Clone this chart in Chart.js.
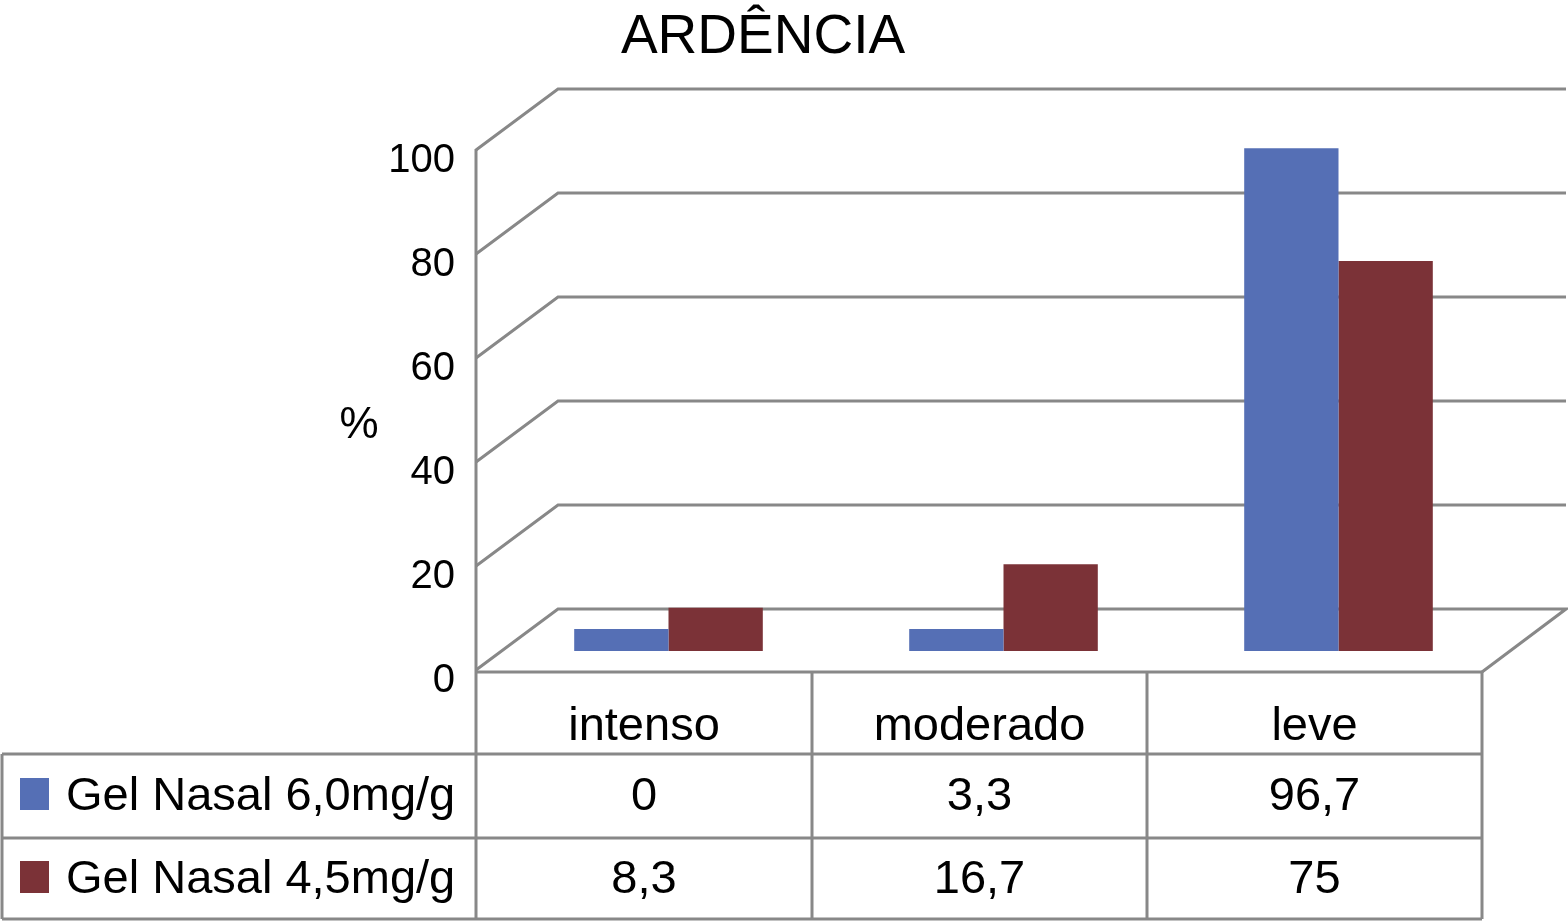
<!DOCTYPE html>
<html>
<head>
<meta charset="utf-8">
<script src="https://cdn.jsdelivr.net/npm/chart.js@4/dist/chart.umd.min.js"></script>
<style>
  html, body { margin: 0; padding: 0; background: #ffffff; }
  #wrap { width: 1568px; height: 922px; }
</style>
</head>
<body>
<div id="wrap"><canvas id="c" width="1568" height="922"></canvas></div>
<script>
// ---- data ----
const categories = ['intenso', 'moderado', 'leve'];
const seriesNames = ['Gel Nasal 6,0mg/g', 'Gel Nasal 4,5mg/g'];
const gel60 = [0, 3.3, 96.7];
const gel45 = [8.3, 16.7, 75];
const yTicks = [0, 20, 40, 60, 80, 100];
const titleText = 'ARDÊNCIA';
const yAxisLabel = '%';

const seriesColors = ['#556FB5', '#7B3237'];
const gridColor = '#888888';
const FONT = '"Liberation Sans", Arial, Helvetica, sans-serif';

function fmt(v) { return String(v).replace('.', ','); }

const decorPlugin = {
  id: 'decor3d',
  beforeDatasetsDraw(chart) {
    const ctx = chart.ctx;
    const ys = chart.scales.y;
    const area = chart.chartArea;
    const frontX = area.left - 25;
    const backX = area.left + 57;
    const rightX = 1566;
    const tableRight = area.right - 24;
    ctx.save();
    ctx.strokeStyle = gridColor;
    ctx.lineWidth = 3;
    ctx.lineJoin = 'miter';
    yTicks.forEach(v => {
      const fy = ys.getPixelForValue(v) + 19;
      const by = fy - 61;
      ctx.beginPath();
      ctx.moveTo(frontX, fy);
      ctx.lineTo(backX, by);
      ctx.lineTo(rightX, by);
      if (v === 0) {
        ctx.lineTo(tableRight, fy + 2);
      }
      ctx.stroke();
    });
    // front vertical axis
    ctx.beginPath();
    ctx.moveTo(frontX, ys.getPixelForValue(100) + 18);
    ctx.lineTo(frontX, ys.getPixelForValue(0) + 21);
    ctx.stroke();
    ctx.restore();
  },
  afterDraw(chart) {
    const ctx = chart.ctx;
    const ys = chart.scales.y;
    const xs = chart.scales.x;
    const area = chart.chartArea;
    const frontX = area.left - 25;
    const shift = 24;
    const tableTop = ys.getPixelForValue(0) + 21;
    const rowY = [tableTop, 754, 838, 919];
    const colX = [frontX];
    for (let i = 0; i < categories.length; i++) {
      const half = (xs.getPixelForValue(1) - xs.getPixelForValue(0)) / 2;
      colX.push(xs.getPixelForValue(i) + half - shift);
    }
    const tableRight = colX[colX.length - 1];
    ctx.save();
    ctx.strokeStyle = gridColor;
    ctx.lineWidth = 3;
    // table lines
    ctx.beginPath();
    ctx.moveTo(frontX, rowY[0]); ctx.lineTo(tableRight, rowY[0]);
    for (let r = 1; r < rowY.length; r++) {
      ctx.moveTo(2, rowY[r]); ctx.lineTo(tableRight, rowY[r]);
    }
    ctx.moveTo(2, rowY[1]); ctx.lineTo(2, rowY[3]);
    colX.forEach(x => { ctx.moveTo(x, rowY[0]); ctx.lineTo(x, rowY[3]); });
    ctx.stroke();

    // text
    ctx.fillStyle = '#000';
    ctx.textAlign = 'center';
    ctx.textBaseline = 'alphabetic';
    ctx.font = '47px ' + FONT;
    categories.forEach((c, i) => {
      ctx.fillText(c, (colX[i] + colX[i + 1]) / 2, 740);
    });
    const rows = [gel60, gel45];
    const baselines = [810, 893];
    rows.forEach((vals, r) => {
      ctx.textAlign = 'center';
      vals.forEach((v, i) => {
        ctx.fillText(fmt(v), (colX[i] + colX[i + 1]) / 2, baselines[r]);
      });
      ctx.fillStyle = chart.data.datasets[r].backgroundColor;
      ctx.fillRect(20, baselines[r] - 32, 29, 32);
      ctx.fillStyle = '#000';
      ctx.textAlign = 'left';
      ctx.fillText(seriesNames[r], 66, baselines[r]);
    });

    // y tick labels
    ctx.font = '40px ' + FONT;
    ctx.textAlign = 'right';
    yTicks.forEach(v => {
      ctx.fillText(String(v), 455, ys.getPixelForValue(v) + 19 + 22);
    });
    // axis label
    ctx.font = '44px ' + FONT;
    ctx.textAlign = 'center';
    ctx.fillText(yAxisLabel, 359, 438);
    // title
    ctx.font = '55px ' + FONT;
    ctx.fillText(titleText, 763, 53);
    ctx.restore();
  }
};

new Chart(document.getElementById('c'), {
  type: 'bar',
  data: {
    labels: categories,
    datasets: [
      { label: seriesNames[0], data: gel60, backgroundColor: seriesColors[0], base: -0.001 },
      { label: seriesNames[1], data: gel45, backgroundColor: seriesColors[1], base: -0.001 }
    ]
  },
  options: {
    responsive: false,
    devicePixelRatio: 1,
    animation: false,
    layout: { padding: { left: 501, right: 62, top: 131, bottom: 271 } },
    datasets: { bar: { barPercentage: 1, categoryPercentage: 0.563, minBarLength: 22 } },
    scales: {
      x: { display: false },
      y: { display: false, min: 0, max: 100 }
    },
    plugins: { legend: { display: false }, tooltip: { enabled: false }, title: { display: false } }
  },
  plugins: [decorPlugin]
});
</script>
</body>
</html>
